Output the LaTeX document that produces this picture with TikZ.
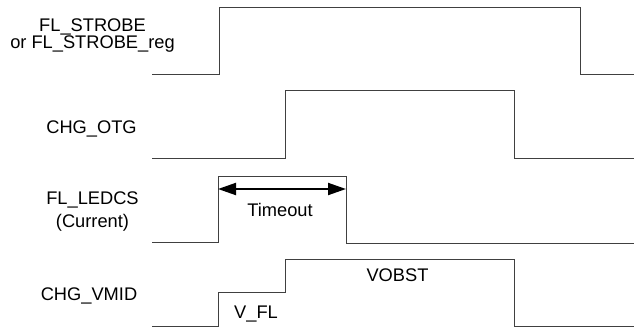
\documentclass[tikz,border=0pt]{standalone}
\usepackage{fontspec}
\setmainfont{Liberation Sans}
\usetikzlibrary{arrows.meta}

\begin{document}
\begin{tikzpicture}[
  x=0.75pt, y=-0.75pt,
  >=Latex,
  every node/.style={font=\fontsize{13.7}{12.75}\selectfont, inner sep=0pt},
  wave/.style={draw=black!75, line width=0.75pt},
  sig/.style={align=center}
]
  \useasboundingbox (0,0) rectangle (635,329);

  % signal names
  \node[sig] (strobe) at (92.5,36) {FL\_STROBE\\or FL\_STROBE\_reg};
  \node[sig, anchor=base] (otg) at (91.5,133.5) {CHG\_OTG};
  \node[sig] (ledcs) at (92.5,212) {FL\_LEDCS\\[4.5pt](Current)};
  \node[sig, anchor=base] (vmid) at (89,300) {CHG\_VMID};

  % waveforms
  \draw[wave] (152,74) -- (219,74) -- (219,7) -- (580,7) -- (580,74) -- (634,74);
  \draw[wave] (152,158) -- (285,158) -- (285,90) -- (514,90) -- (514,158) -- (634,158);
  \draw[wave] (152,242) -- (218,242) -- (218,176) -- (346,176) -- (346,243) -- (634,243);
  \draw[wave] (152,326) -- (218,326) -- (218,292) -- (285,292) -- (285,259)
    -- (514,259) -- (514,326) -- (634,326);

  % timeout
  \coordinate (tstart) at (218,189);
  \coordinate (tend) at (346,189);
  \draw[{Triangle[length=13.5pt,width=9pt]}-{Triangle[length=13.5pt,width=9pt]}, line width=1.5pt]
    (tstart) -- (tend);
  \node[anchor=base] (timeout) at (280,216.5) {Timeout};

  % levels
  \node[anchor=base] (vfl) at (256,318) {V\_FL};
  \node[anchor=base] (vobst) at (397.5,281.5) {VOBST};
\end{tikzpicture}
\end{document}
